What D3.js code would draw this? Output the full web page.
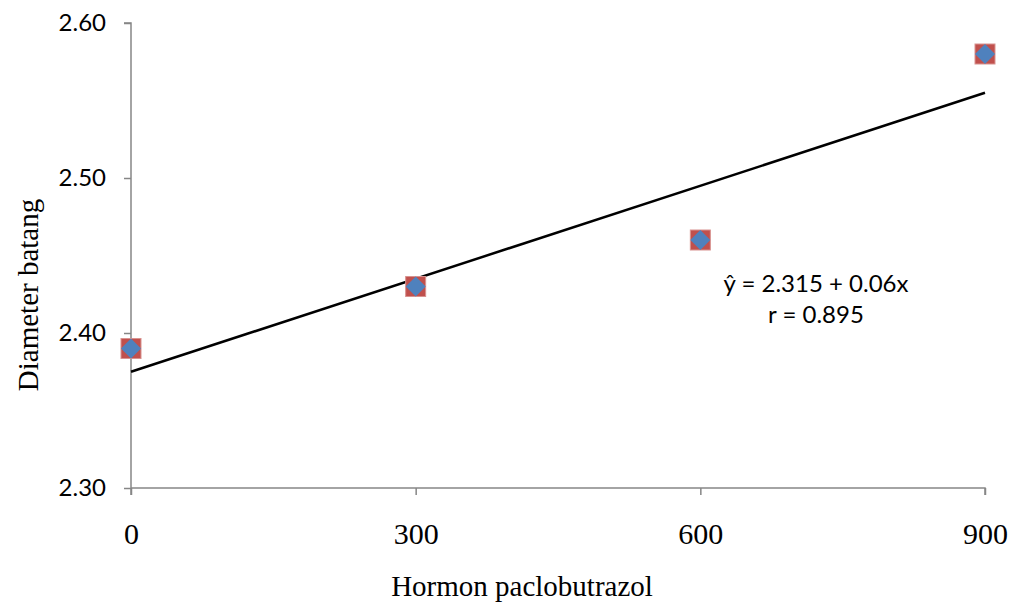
<!DOCTYPE html>
<html>
<head>
<meta charset="utf-8">
<script src="https://cdn.jsdelivr.net/npm/d3@7"></script>
<style>
  body { margin: 0; background: #fff; }
</style>
</head>
<body>
<script>
var w = 1009;
var h = 603;

// data
var doses = [0, 300, 600, 900];
var diameter = [2.39, 2.43, 2.46, 2.58];
var yTicks = [2.30, 2.40, 2.50, 2.60];
var eqLines = ["\u0177 = 2.315 + 0.06x", "r = 0.895"];

var padL = 131, padR = 985, padT = 23, padB = 488;

var x = d3.scaleLinear().domain([0, 900]).range([padL, padR]);
var y = d3.scaleLinear().domain([2.30, 2.60]).range([padB, padT]);

var svg = d3.select("body")
            .append("svg")
            .attr("width", w)
            .attr("height", h);

// y axis
var yAxis = svg.append("g")
    .attr("transform", "translate(" + padL + ",0)")
    .call(d3.axisLeft(y).tickValues(yTicks).tickSize(7).tickPadding(18)
        .tickFormat(d3.format(".2f")));
yAxis.select(".domain").attr("stroke", "#868686").attr("stroke-width", 1.5)
    .attr("d", "M-7," + padT + "H0V" + (padB + 7));
yAxis.selectAll(".tick line").attr("stroke", "#868686").attr("stroke-width", 1.5);
yAxis.selectAll(".tick text")
    .attr("font-family", "Lato, 'Noto Sans', sans-serif")
    .attr("font-size", "24px")
    .attr("fill", "#000");

// x axis
var xAxis = svg.append("g")
    .attr("transform", "translate(0," + padB + ")")
    .call(d3.axisBottom(x).tickValues(doses).tickSize(7).tickPadding(38)
        .tickFormat(d3.format("d")));
xAxis.select(".domain").attr("stroke", "#868686").attr("stroke-width", 1.5)
    .attr("d", "M" + padL + ",0H" + padR + "V7");
xAxis.selectAll(".tick line").attr("stroke", "#868686").attr("stroke-width", 1.5);
xAxis.selectAll(".tick text")
    .attr("font-family", "'Liberation Serif', 'Times New Roman', serif")
    .attr("font-size", "30px")
    .attr("fill", "#000")
    .attr("dy", "0.35em");

// linear trend from the points
var mx = d3.mean(doses), my = d3.mean(diameter);
var slope = d3.sum(doses, function(d, i) { return (d - mx) * (diameter[i] - my); }) /
            d3.sum(doses, function(d) { return (d - mx) * (d - mx); });
var icpt = my - slope * mx;
var ends = [0, 900];

svg.append("line")
    .attr("x1", x(ends[0]))
    .attr("y1", y(icpt + slope * ends[0]))
    .attr("x2", x(ends[1]))
    .attr("y2", y(icpt + slope * ends[1]))
    .attr("stroke", "#000")
    .attr("stroke-width", 2.5);

// markers: red square with blue diamond on top
var pts = svg.selectAll("g.pt")
    .data(doses)
    .enter()
    .append("g")
    .attr("class", "pt")
    .attr("transform", function(d, i) {
        return "translate(" + x(d) + "," + y(diameter[i]) + ")";
    });

pts.append("rect")
    .attr("x", -10).attr("y", -10)
    .attr("width", 20).attr("height", 20)
    .attr("fill", "#C0504D")
    .attr("stroke", "#D8928F")
    .attr("stroke-width", 1);

pts.append("path")
    .attr("d", "M0,-10L10,0L0,10L-10,0Z")
    .attr("fill", "#4F81BD");

// equation
svg.selectAll("text.eq")
    .data(eqLines)
    .enter()
    .append("text")
    .attr("class", "eq")
    .attr("x", 816)
    .attr("y", function(d, i) { return 292 + i * 31; })
    .attr("text-anchor", "middle")
    .attr("font-family", "Lato, 'Noto Sans', sans-serif")
    .attr("font-size", "24px")
    .attr("fill", "#000")
    .text(function(d) { return d; });

// axis titles
svg.append("text")
    .attr("x", 522)
    .attr("y", 596)
    .attr("text-anchor", "middle")
    .attr("font-family", "'Liberation Serif', 'Times New Roman', serif")
    .attr("font-size", "29px")
    .text("Hormon paclobutrazol");

svg.append("text")
    .attr("transform", "translate(38,295) rotate(-90)")
    .attr("text-anchor", "middle")
    .attr("font-family", "'Liberation Serif', 'Times New Roman', serif")
    .attr("font-size", "29px")
    .text("Diameter batang");
</script>
</body>
</html>
